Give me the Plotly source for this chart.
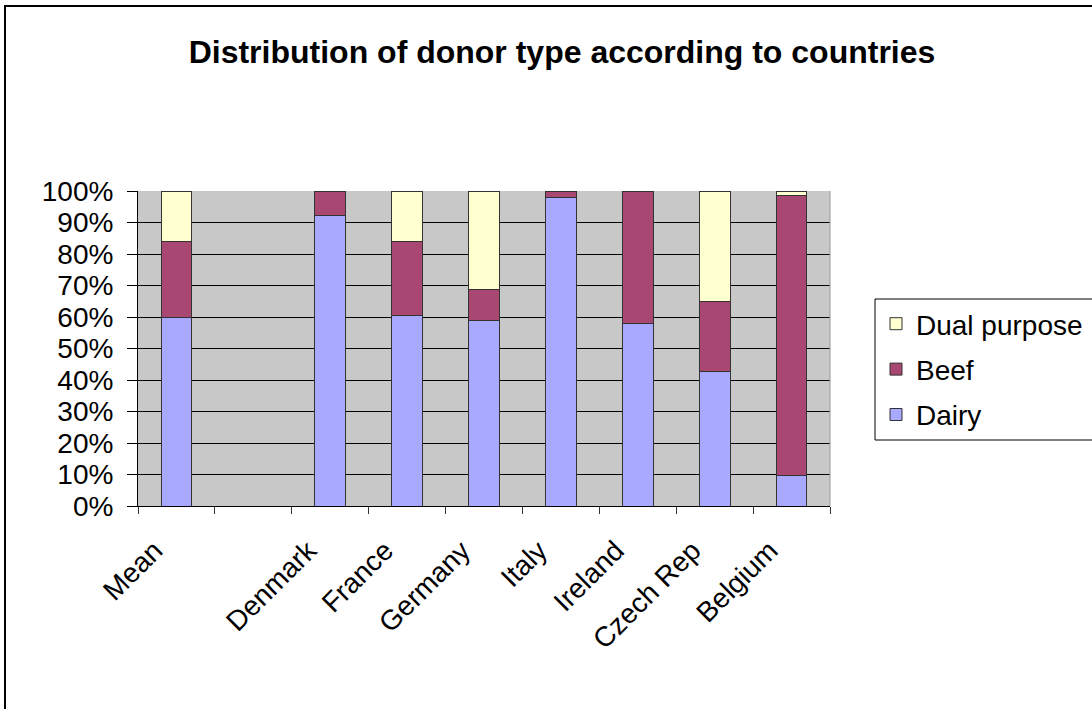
import plotly.graph_objects as go

# Share of donor types per country (percent); the blank slot separates the mean from the countries
categories = ["Mean", " ", "Denmark", "France", "Germany", "Italy", "Ireland", "Czech Rep", "Belgium"]
dairy = [60.0, None, 92.2, 60.4, 59.0, 97.9, 57.8, 42.6, 9.8]
beef = [24.0, None, 7.8, 23.5, 9.7, 2.1, 42.2, 22.4, 88.7]
dual_purpose = [16.0, None, 0.0, 16.1, 31.3, 0.0, 0.0, 35.0, 1.5]
y_ticks = [0, 10, 20, 30, 40, 50, 60, 70, 80, 90, 100]

FONT = "Liberation Sans, Arial, sans-serif"
W, H = 1092, 709
L, R, T, B = 138, 830, 191, 506  # plot area in pixels

fig = go.Figure()
# stacked bottom to top; legend lists them top to bottom in reverse
series = [
    ("Dairy", dairy, "#A9A9FF", 3),
    ("Beef", beef, "#A84872", 2),
    ("Dual purpose", dual_purpose, "#FFFFD0", 1),
]
for name, vals, color, rank in series:
    fig.add_trace(go.Bar(
        name=name, x=categories, y=vals, legendgroup=name, legendrank=rank,
        marker=dict(color=color, line=dict(color="#333333", width=1)),
        width=0.4,
    ))

pw, ph = R - L, B - T


def px_x(x):
    return (x - L) / pw


def px_y(y):
    return (B - y) / ph


fig.update_layout(
    width=W, height=H,
    barmode="stack",
    paper_bgcolor="white",
    plot_bgcolor="#C8C8C8",
    margin=dict(l=L, r=W - R, t=T, b=H - B, pad=0, autoexpand=False),
    font=dict(family=FONT, color="black", size=28),
    title=dict(
        text="<b>Distribution of donor type according to countries</b>",
        x=562 / W, xanchor="center", y=1 - 52 / H, yanchor="middle",
        font=dict(size=32, family=FONT, color="black"),
    ),
    showlegend=True,
    legend=dict(
        traceorder="grouped", tracegroupgap=6,
        x=px_x(876), xanchor="left", y=px_y(299), yanchor="top",
        bgcolor="rgba(0,0,0,0)", borderwidth=0,
        font=dict(size=28, family=FONT, color="black"),
        itemwidth=30,
    ),
    xaxis=dict(
        type="category", categoryorder="array", categoryarray=categories,
        tickson="boundaries", ticks="outside", ticklen=7, tickcolor="#333333",
        tickangle=-45, showline=True, linecolor="black", linewidth=1,
        showgrid=False, tickfont=dict(size=28, family=FONT),
        ticklabelstandoff=16, ticklabelshift=-22,
        range=[-0.5, len(categories) - 0.5],
    ),
    yaxis=dict(
        range=[0, 100], tickvals=y_ticks,
        ticktext=[f"{v}%" for v in y_ticks],
        ticks="outside", ticklen=10, tickcolor="black",
        ticklabelstandoff=8,
        showline=True, linecolor="black", linewidth=1,
        showgrid=True, gridcolor="black", gridwidth=1,
        tickfont=dict(size=28, family=FONT), zeroline=False,
    ),
    shapes=[
        # right edge of the plot area
        dict(type="line", xref="paper", yref="paper", x0=1, x1=1, y0=0, y1=1,
             line=dict(color="#999999", width=1)),
        # legend box, running off the right edge of the chart
        dict(type="rect", xref="paper", yref="paper",
             x0=px_x(875), x1=px_x(W + 20), y0=px_y(440), y1=px_y(299),
             line=dict(color="black", width=1), fillcolor="white", layer="below"),
        # chart frame
        dict(type="rect", xref="paper", yref="paper",
             x0=px_x(5), x1=px_x(W + 20), y0=px_y(H + 20), y1=px_y(6),
             line=dict(color="black", width=2), layer="below"),
    ],
)

fig.write_html("out.html")
